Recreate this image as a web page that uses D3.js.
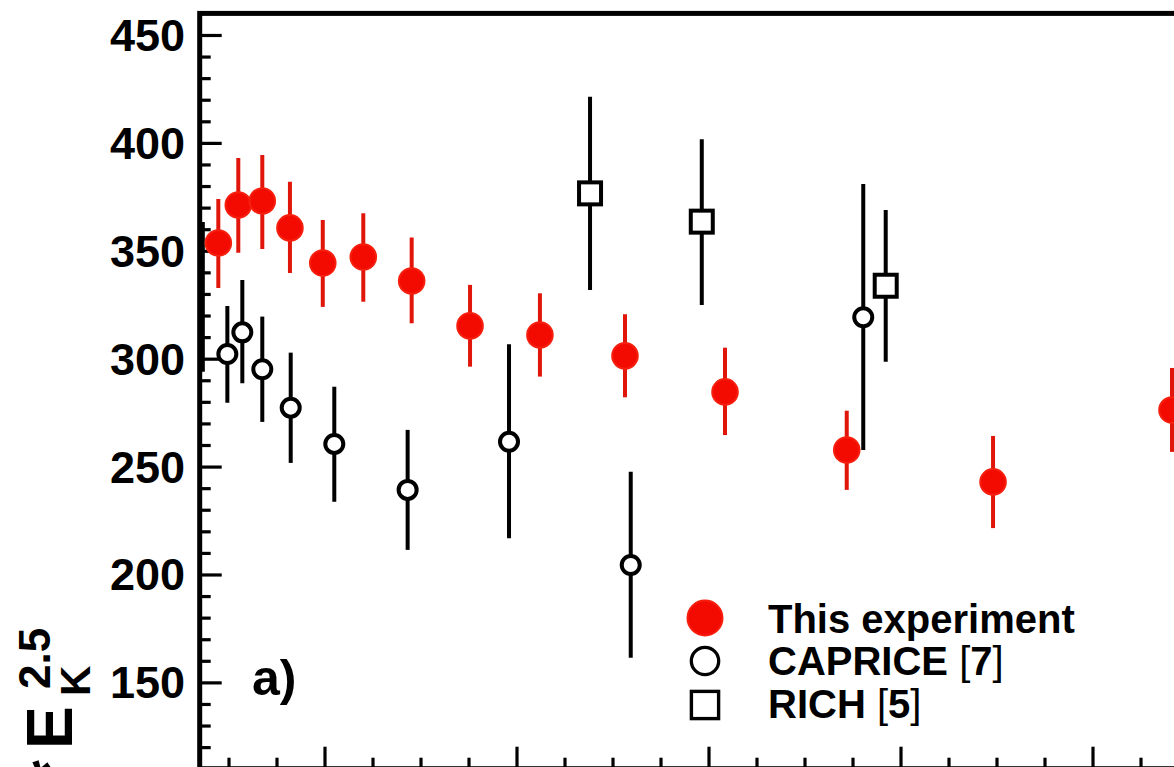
<!DOCTYPE html>
<html><head><meta charset="utf-8">
<script src="https://cdn.jsdelivr.net/npm/d3@7"></script>
<style>
body{margin:0;background:#fff;overflow:hidden;}
svg{display:block;font-family:"Liberation Sans",Arial,Helvetica,sans-serif;}
</style>
</head><body>
<svg id="chart" width="1174" height="767"></svg>
<script>
// ---------------- data ----------------
// This experiment (filled red circles)
const expX       = [0.447, 0.551, 0.676, 0.820, 0.991, 1.202, 1.454, 1.758, 2.122, 2.565, 3.086, 3.720, 4.482, 5.414];
const expY       = [353.6, 371.2, 373.1, 360.6, 344.3, 347.1, 336.0, 315.2, 311.0, 301.3, 284.6, 257.7, 242.9, 276.2];
const expErrUp   = [20.4, 21.8, 21.3, 21.4, 20.0, 20.3, 20.1, 19.0, 19.3, 19.3, 20.5, 18.2, 21.3, 19.5];
const expErrDown = [20.8, 22.1, 22.3, 20.9, 20.3, 20.7, 19.6, 18.9, 19.3, 19.2, 20.0, 18.5, 21.4, 19.4];

// CAPRICE [7] (open circles)
const capX       = [0.494, 0.572, 0.676, 0.824, 1.051, 1.433, 1.961, 2.595, 3.806];
const capY       = [302.2, 312.2, 295.1, 277.3, 260.5, 239.2, 261.5, 204.4, 319.2];
const capErrUp   = [22.2, 24.3, 24.4, 25.5, 26.5, 27.8, 45.2, 43.2, 61.8];
const capErrDown = [22.6, 23.6, 24.4, 25.6, 26.8, 27.8, 44.7, 43.0, 61.5];

// error bar of a point sitting on the left frame edge (marker outside frame)
const edgeX = [0.365];
const edgeY = [328.6];
const edgeErr = [34.7];

// RICH [5] (open squares)
const richX       = [2.383, 2.965, 3.923];
const richY       = [376.6, 363.5, 333.8];
const richErrUp   = [44.8, 38.2, 35.1];
const richErrDown = [44.8, 38.6, 35.2];

// axes
const xDomain = [0.35, 5.6];
const yDomain = [110, 460];
const yMajorTicks = [150, 200, 250, 300, 350, 400, 450];
const xMajorTicks = [1, 2, 3, 4, 5];

const legendLabels = ["This experiment", "CAPRICE", "RICH"];
const legendRefs = ["", "7", "5"];
const yTitlePre = "*", yTitleMain = "E", yTitleSub = "K", yTitleSup = "2.5";
const panelLabel = "a)";

// ---------------- drawing ----------------
const svg = d3.select("#chart");
const L = 199.7, R = 1207.7, T = 13.4, B = 768.7;
const x = d3.scaleLinear().domain(xDomain).range([L, R]);
const y = d3.scaleLinear().domain(yDomain).range([B, T]);

const red = "#f30a00", redBar = "#e0160b";

// clip
svg.append("defs").append("clipPath").attr("id","clip")
  .append("rect").attr("x",L).attr("y",T).attr("width",R-L).attr("height",B-T);

// axes (ticks inward)
const yAxis = d3.axisRight(y).tickValues(yMajorTicks).tickSize(22).tickFormat("");
const yMinor = d3.axisRight(y).tickValues(d3.range(120, 460, 10).filter(v => v % 50 !== 0)).tickSize(11).tickFormat("");
const xAxis = d3.axisTop(x).tickValues(xMajorTicks).tickSize(22).tickFormat("");
const xMinor = d3.axisTop(x).tickValues(d3.range(0.5, 5.6, 0.25).filter(v => Math.abs(v - Math.round(v)) > 1e-6)).tickSize(11).tickFormat("");

function styleAxis(g){
  g.select(".domain").remove();
  g.selectAll(".tick line").attr("stroke","#000").attr("stroke-width",3.2);
}
svg.append("g").attr("transform",`translate(${L},0)`).call(yAxis).call(styleAxis);
svg.append("g").attr("transform",`translate(${L},0)`).call(yMinor).call(styleAxis);
svg.append("g").attr("transform",`translate(0,${B})`).call(xAxis).call(styleAxis);
svg.append("g").attr("transform",`translate(0,${B})`).call(xMinor).call(styleAxis);

// y tick labels
svg.append("g").selectAll("text").data(yMajorTicks).join("text")
  .attr("x", 185).attr("y", d => y(d)).attr("dy","0.355em")
  .attr("text-anchor","end").attr("font-size",45).attr("font-weight","bold")
  .text(d => d);

// frame
svg.append("rect").attr("x",L).attr("y",T).attr("width",R-L).attr("height",B-T)
  .attr("fill","none").attr("stroke","#000").attr("stroke-width",5);

const plot = svg.append("g").attr("clip-path","url(#clip)");

// edge error bar
plot.append("g").selectAll("line").data(edgeX).join("line")
  .attr("x1",(d)=>x(d)).attr("x2",(d)=>x(d))
  .attr("y1",(d,i)=>y(edgeY[i]+edgeErr[i])).attr("y2",(d,i)=>y(edgeY[i]-edgeErr[i]))
  .attr("stroke","#000").attr("stroke-width",4.5);

// This experiment
const expG = plot.append("g");
expG.selectAll("line").data(expX).join("line")
  .attr("x1",d=>x(d)).attr("x2",d=>x(d))
  .attr("y1",(d,i)=>y(expY[i]+expErrUp[i])).attr("y2",(d,i)=>y(expY[i]-expErrDown[i]))
  .attr("stroke",redBar).attr("stroke-width",4);
expG.selectAll("circle").data(expX).join("circle")
  .attr("cx",d=>x(d)).attr("cy",(d,i)=>y(expY[i])).attr("r",12.8)
  .attr("fill",red).attr("stroke","#f7200f").attr("stroke-width",2);

// CAPRICE
const capG = plot.append("g");
capG.selectAll("line").data(capX).join("line")
  .attr("x1",d=>x(d)).attr("x2",d=>x(d))
  .attr("y1",(d,i)=>y(capY[i]+capErrUp[i])).attr("y2",(d,i)=>y(capY[i]-capErrDown[i]))
  .attr("stroke","#000").attr("stroke-width",4);
capG.selectAll("circle").data(capX).join("circle")
  .attr("cx",d=>x(d)).attr("cy",(d,i)=>y(capY[i])).attr("r",9)
  .attr("fill","#fff").attr("stroke","#000").attr("stroke-width",4);

// RICH
const richG = plot.append("g");
richG.selectAll("line").data(richX).join("line")
  .attr("x1",d=>x(d)).attr("x2",d=>x(d))
  .attr("y1",(d,i)=>y(richY[i]+richErrUp[i])).attr("y2",(d,i)=>y(richY[i]-richErrDown[i]))
  .attr("stroke","#000").attr("stroke-width",4);
richG.selectAll("rect").data(richX).join("rect")
  .attr("x",d=>x(d)-11).attr("y",(d,i)=>y(richY[i])-11).attr("width",22).attr("height",22)
  .attr("fill","#fff").attr("stroke","#000").attr("stroke-width",4);

// legend
const lg = svg.append("g");
const lx = 705, ly = [618, 661, 705], tx = 768, tb = [633, 675, 718];
lg.append("circle").attr("cx",lx).attr("cy",ly[0]).attr("r",17.5).attr("fill",red).attr("stroke","#f7200f").attr("stroke-width",2);
lg.append("circle").attr("cx",lx).attr("cy",ly[1]).attr("r",13.7).attr("fill","#fff").attr("stroke","#000").attr("stroke-width",3.3);
lg.append("rect").attr("x",lx-13.6).attr("y",ly[2]-13.6).attr("width",27.2).attr("height",27.2).attr("fill","#fff").attr("stroke","#000").attr("stroke-width",3.4);
legendLabels.forEach((lab,i)=>{
  const t = lg.append("text").attr("x",tx).attr("y",tb[i]).attr("font-size",40).attr("font-weight","bold");
  t.append("tspan").text(lab);
  if(legendRefs[i]){
    t.append("tspan").attr("font-weight","normal").text(" [");
    t.append("tspan").attr("font-weight","bold").text(legendRefs[i]);
    t.append("tspan").attr("font-weight","normal").text("]");
  }
});

// panel label
svg.append("text").attr("x",252).attr("y",695).attr("font-size",50).attr("font-weight","bold").text(panelLabel);

// y-axis title (rotated); the part before "E" runs off the bottom edge as in the reference
const yt = svg.append("g").attr("transform","translate(72,749) rotate(-90)");
yt.append("text").attr("x",-11).attr("y",0).attr("text-anchor","end").attr("font-size",64).attr("font-weight","bold").text(yTitlePre);
yt.append("text").attr("x",0).attr("y",0).attr("font-size",64).attr("font-weight","bold").text(yTitleMain);
yt.append("text").attr("x",53).attr("y",18).attr("font-size",42).attr("font-weight","bold").text(yTitleSub);
yt.append("text").attr("x",60).attr("y",-22).attr("font-size",44).attr("font-weight","bold").text(yTitleSup);
</script>
</body></html>
